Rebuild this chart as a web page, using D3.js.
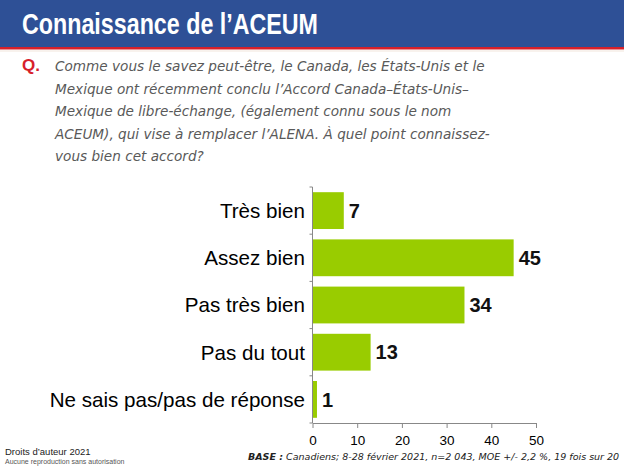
<!DOCTYPE html>
<html><head><meta charset="utf-8">
<script src="https://cdn.jsdelivr.net/npm/d3@7"></script>
<style>body{margin:0;background:#fff}svg{display:block}</style>
</head><body>
<script>
const categories = ["Très bien","Assez bien","Pas très bien","Pas du tout","Ne sais pas/pas de réponse"];
const values = [7,45,34,13,1];
const xTicks = [0,10,20,30,40,50];
const title = "Connaissance de l’ACEUM";
const questionLines = [
 "Comme vous le savez peut-être, le Canada, les États-Unis et le",
 "Mexique ont récemment conclu l’Accord Canada–États-Unis–",
 "Mexique de libre-échange, (également connu sous le nom",
 "ACEUM), qui vise à remplacer l’ALENA. À quel point connaissez-",
 "vous bien cet accord?"
];

const W=624,H=468;
const svg=d3.select("body").append("svg").attr("width",W).attr("height",H);
svg.append("rect").attr("x",0).attr("y",0).attr("width",W).attr("height",47).attr("fill","#2E5096");
svg.append("rect").attr("x",0).attr("y",47).attr("width",W).attr("height",2.5).attr("fill","#D7202A");
svg.append("rect").attr("x",0).attr("y",50.5).attr("width",W).attr("height",1).attr("fill","#F1E6DC");

svg.append("text").attr("x",22).attr("y",34).text(title)
 .attr("fill","#fff").attr("font-family","'Liberation Sans',Arial,sans-serif")
 .attr("font-weight","bold").attr("font-size",29).attr("textLength",296).attr("lengthAdjust","spacingAndGlyphs");

svg.append("text").attr("x",22).attr("y",71).text("Q.")
 .attr("fill","#D7202A").attr("font-family","'Liberation Sans',Arial,sans-serif")
 .attr("font-weight","bold").attr("font-size",17);

const qs=svg.selectAll("text.q").data(questionLines).join("text").attr("class","q")
 .attr("x",55).attr("y",(d,i)=>71+i*22.6).text(d=>d)
 .attr("fill","#595959").attr("font-family","'DejaVu Sans',sans-serif")
 .attr("font-style","italic").attr("font-size",16);
const maxW=d3.max(qs.nodes(),n=>n.getComputedTextLength());
qs.attr("font-size",16*435/maxW);

const x=d3.scaleLinear().domain([0,50]).range([312.5,536]);
const y=d3.scaleBand().domain(categories).range([187,423]).paddingInner(0.22).paddingOuter(0.11);

const g=svg.append("g");
g.selectAll("rect.bar").data(values).join("rect").attr("class","bar")
 .attr("x",x(0)).attr("y",(d,i)=>y(categories[i]))
 .attr("width",d=>x(d)-x(0)).attr("height",y.bandwidth()).attr("fill","#99CC00");

g.selectAll("text.val").data(values).join("text").attr("class","val")
 .attr("x",d=>x(d)+5).attr("y",(d,i)=>y(categories[i])+y.bandwidth()/2).attr("dy","0.36em")
 .text(d=>d).attr("font-family","'Liberation Sans',Arial,sans-serif").attr("font-weight","bold")
 .attr("font-size",20).attr("fill","#111");

g.selectAll("text.cat").data(categories).join("text").attr("class","cat")
 .attr("x",305).attr("y",d=>y(d)+y.bandwidth()/2).attr("dy","0.36em").attr("text-anchor","end")
 .text(d=>d).attr("font-family","'Liberation Sans',Arial,sans-serif").attr("font-size",20.6).attr("fill","#000");

g.append("line").attr("x1",x(0)).attr("x2",x(0)).attr("y1",187).attr("y2",423).attr("stroke","#888").attr("stroke-width",1);
const bnd=d3.range(categories.length+1).map(i=>y.range()[0]+i*(y.range()[1]-y.range()[0])/categories.length);
g.selectAll("line.yt").data(bnd).join("line").attr("class","yt")
 .attr("x1",x(0)-3).attr("x2",x(0)).attr("y1",d=>d).attr("y2",d=>d).attr("stroke","#888");

const xa=svg.append("g").attr("transform","translate(0,423)")
 .call(d3.axisBottom(x).tickValues(xTicks).tickSize(5).tickSizeOuter(0));
xa.select(".domain").attr("stroke","#888");
xa.selectAll(".tick line").attr("stroke","#888");
xa.selectAll(".tick text").attr("font-family","'Liberation Sans',Arial,sans-serif").attr("font-size",13.5).attr("fill","#000").attr("y",0).attr("dy","1.6em");

svg.append("text").attr("x",5).attr("y",455).text("Droits d’auteur 2021")
 .attr("font-family","'Liberation Sans',Arial,sans-serif").attr("font-size",9.5).attr("fill","#222");
svg.append("text").attr("x",5).attr("y",463.5).text("Aucune reproduction sans autorisation")
 .attr("font-family","'Liberation Sans',Arial,sans-serif").attr("font-size",7).attr("fill","#555");

const base=svg.append("text").attr("x",248).attr("y",460)
 .attr("font-family","'DejaVu Sans',sans-serif").attr("font-size",11).attr("font-style","italic").attr("fill","#222");
base.append("tspan").attr("font-weight","bold").text("BASE :");
base.append("tspan").text(" Canadiens; 8-28 février 2021, n=2 043, MOE +/- 2,2 %, 19 fois sur 20");
const bw=base.node().getComputedTextLength();
base.attr("font-size",11*372/bw);
</script>
</body></html>
